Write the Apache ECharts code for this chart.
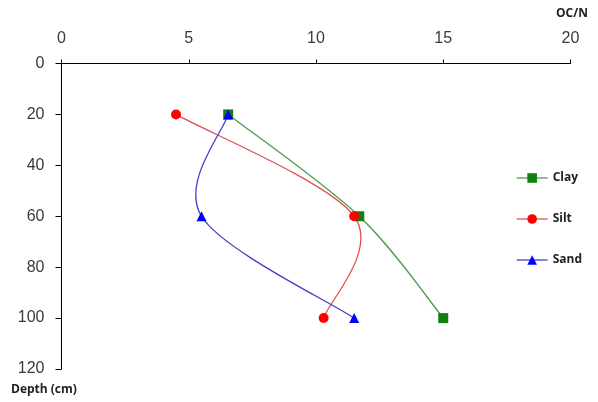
<!DOCTYPE html>
<html>
<head>
<meta charset="utf-8">
<script src="https://cdn.jsdelivr.net/npm/echarts@6/dist/echarts.min.js"></script>
<style>
html,body{margin:0;padding:0;background:#fff;}
#chart{width:598px;height:402px;}
</style>
</head>
<body>
<div id="chart"></div>
<script>
// Depth (cm) for each sample
var depths = [20, 60, 100];
// OC/N values per texture class
var clay = [6.55, 11.7, 15.0];
var silt = [4.5, 11.5, 10.3];
var sand = [6.55, 5.5, 11.5];
var seriesNames = ['Clay', 'Silt', 'Sand'];
var lineColors = ['#4e9a4e', '#e05050', '#4040c8'];
var markColors = ['#118011', '#ff0000', '#0000ff'];
var markSymbols = ['rect', 'circle', 'triangle'];
// Axis ticks
var xTicks = [0, 5, 10, 15, 20];
var yTicks = [0, 20, 40, 60, 80, 100, 120];
var xTitle = 'OC/N';
var yTitle = 'Depth (cm)';

function pairs(vals) {
  return vals.map(function (v, i) { return [v, depths[i]]; });
}

// Smooth curve (Catmull-Rom converted to cubic Bezier) in pixel space,
// with all points placed through the chart's own axes (api.coord).
function curveRenderer(vals, color) {
  var data = pairs(vals);
  return function (params, api) {
    if (params.dataIndex !== 0) return null;
    var p = data.map(function (d) { return api.coord(d); });
    var n = p.length;
    var d = 'M' + p[0][0] + ' ' + p[0][1];
    for (var i = 0; i < n - 1; i++) {
      var p0 = p[Math.max(i - 1, 0)], p1 = p[i], p2 = p[i + 1], p3 = p[Math.min(i + 2, n - 1)];
      var c1x = p1[0] + (p2[0] - p0[0]) / 6, c1y = p1[1] + (p2[1] - p0[1]) / 6;
      var c2x = p2[0] - (p3[0] - p1[0]) / 6, c2y = p2[1] - (p3[1] - p1[1]) / 6;
      d += ' C' + c1x + ' ' + c1y + ' ' + c2x + ' ' + c2y + ' ' + p2[0] + ' ' + p2[1];
    }
    return {
      type: 'path',
      shape: { pathData: d },
      style: { fill: null, stroke: color, lineWidth: 1.3 }
    };
  };
}

var valueSets = [clay, silt, sand];
var series = [];
valueSets.forEach(function (vals, k) {
  series.push({
    type: 'custom',
    name: seriesNames[k] + ' curve',
    renderItem: curveRenderer(vals, lineColors[k]),
    data: pairs(vals),
    z: 1,
    silent: true
  });
});
valueSets.forEach(function (vals, k) {
  series.push({
    name: seriesNames[k], type: 'line',
    data: pairs(vals),
    symbol: markSymbols[k], symbolSize: 10,
    lineStyle: { color: lineColors[k], width: 1.3, opacity: 0 },
    itemStyle: { color: markColors[k] },
    z: 3
  });
});

var labelFont = 'Liberation Sans';
var chart = echarts.init(document.getElementById('chart'));
chart.setOption({
  animation: false,
  backgroundColor: '#fff',
  grid: { left: 61.5, right: 27.5, top: 63.5, bottom: 33 },
  xAxis: {
    type: 'value',
    position: 'top',
    min: xTicks[0],
    max: xTicks[xTicks.length - 1],
    interval: xTicks[1] - xTicks[0],
    axisLine: { show: true, onZero: false, lineStyle: { color: '#000', width: 1 } },
    axisTick: { show: true, inside: false, length: 4, lineStyle: { color: '#000' } },
    axisLabel: { margin: 17, fontSize: 16, color: '#3a3a3a', fontFamily: labelFont },
    splitLine: { show: false }
  },
  yAxis: {
    type: 'value',
    inverse: true,
    min: yTicks[0],
    max: yTicks[yTicks.length - 1],
    interval: yTicks[1] - yTicks[0],
    axisLine: { show: true, onZero: false, lineStyle: { color: '#000', width: 1 } },
    axisTick: { show: true, inside: false, length: 6, lineStyle: { color: '#000' } },
    axisLabel: { margin: 17, fontSize: 16, color: '#3a3a3a', fontFamily: labelFont },
    splitLine: { show: false }
  },
  legend: {
    orient: 'vertical',
    left: 511,
    top: 167,
    itemWidth: 31,
    itemHeight: 12,
    itemGap: 29,
    textStyle: { fontSize: 12, fontWeight: 'bold', color: '#222', fontFamily: 'Open Sans' },
    data: seriesNames.map(function (nm, k) {
      return { name: nm, lineStyle: { color: lineColors[k], width: 1.3, opacity: 1 } };
    })
  },
  graphic: [
    { type: 'text', left: 556, top: 8, style: { text: xTitle, font: 'bold 12px "Open Sans"', fill: '#222' } },
    { type: 'text', left: 11, top: 384, style: { text: yTitle, font: 'bold 12px "Open Sans"', fill: '#222' } }
  ],
  series: series
});
</script>
</body>
</html>
